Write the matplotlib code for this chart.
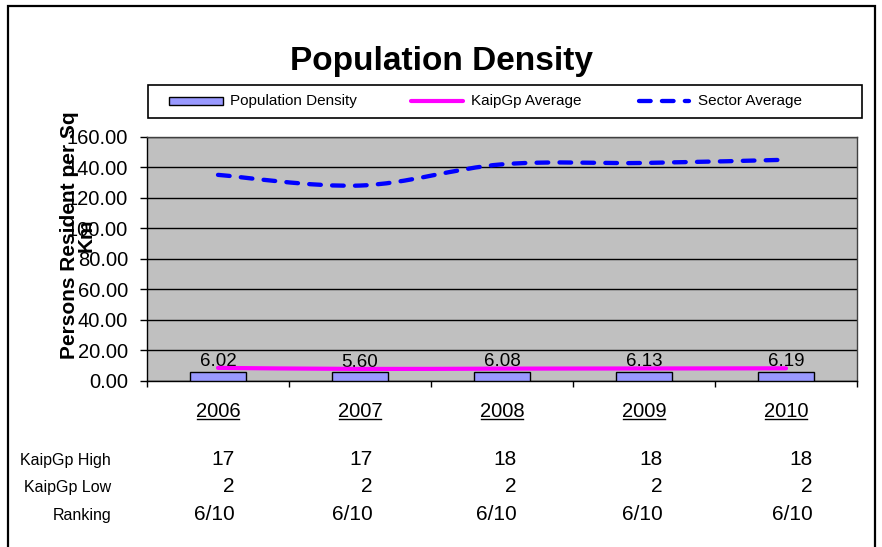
import numpy as np
import matplotlib
matplotlib.use("Agg")
import matplotlib.pyplot as plt
from matplotlib.path import Path
from matplotlib.patches import PathPatch, Rectangle
from matplotlib.lines import Line2D

plt.rcParams['font.family'] = ['Liberation Sans', 'DejaVu Sans']
plt.rcParams['lines.scale_dashes'] = False

# ---- data ----
years = ['2006', '2007', '2008', '2009', '2010']
population_density = [6.02, 5.60, 6.08, 6.13, 6.19]
kaipgp_average = [8.6, 7.9, 8.1, 8.2, 8.3]
sector_average = [135.0, 128.0, 141.9, 142.8, 144.9]
kaipgp_high = ['17', '17', '18', '18', '18']
kaipgp_low = ['2', '2', '2', '2', '2']
ranking = ['6/10', '6/10', '6/10', '6/10', '6/10']
y_ticks = [0, 20, 40, 60, 80, 100, 120, 140, 160]

W, H = 882, 547
fig = plt.figure(figsize=(W / 100, H / 100), dpi=100)


def fx(x):
    return x / W


def fy(y):
    return 1 - y / H


# outer frame of the chart object (bottom edge runs off the page)
fig.add_artist(Rectangle((fx(8), fy(560)), fx(875) - fx(8), fy(6) - fy(560),
                         transform=fig.transFigure, fill=False,
                         edgecolor='black', lw=1.6))

# plot area
left, right, top, bottom = 147, 857, 136.7, 381
ax = fig.add_axes([fx(left), fy(bottom), fx(right) - fx(left), fy(top) - fy(bottom)])
ax.set_facecolor('#C0C0C0')
x = np.arange(len(years))
ax.set_xlim(-0.5, len(years) - 0.5)
ax.set_ylim(0, 160)
ax.set_yticks(y_ticks)
ax.set_yticklabels([f'{v:.2f}' for v in y_ticks], fontsize=14.5)
ax.yaxis.grid(True, color='black', lw=1)
ax.set_axisbelow(True)
ax.tick_params(axis='y', direction='out', length=5, width=1, pad=8.6, colors='black')

ax.set_xticks(np.arange(-0.5, len(years), 1.0))
ax.set_xticklabels([])
ax.tick_params(axis='x', which='major', direction='out', length=4.5, width=1)
ax.set_xticks(x, minor=True)
ax.set_xticklabels(years, minor=True, fontsize=14.5)
ax.tick_params(axis='x', which='minor', length=0, pad=15)

for side in ['left', 'bottom']:
    ax.spines[side].set_color('black')
    ax.spines[side].set_linewidth(1)
for side in ['top', 'right']:
    ax.spines[side].set_color('#404040')
    ax.spines[side].set_linewidth(1)

# bars
bars = ax.bar(x, population_density, width=0.4, color='#9999FF',
              edgecolor='black', lw=1, zorder=3)
ax.bar_label(bars, labels=[f'{v:.2f}' for v in population_density],
             padding=1, fontsize=13.5, zorder=4)


def smooth_path(xs, ys):
    pts = np.column_stack([xs, ys]).astype(float)
    n = len(pts)
    verts = [pts[0]]
    codes = [Path.MOVETO]
    for i in range(n - 1):
        p_prev = pts[max(i - 1, 0)]
        p0, p1 = pts[i], pts[i + 1]
        p_next = pts[min(i + 2, n - 1)]
        c1 = p0 + (p1 - p_prev) / 6.0
        c2 = p1 - (p_next - p0) / 6.0
        verts += [c1, c2, p1]
        codes += [Path.CURVE4] * 3
    return Path(verts, codes)


kaip = PathPatch(smooth_path(x, kaipgp_average), fill=False,
                 edgecolor='#FF00FF', lw=3, zorder=5, capstyle='round',
                 joinstyle='round')
ax.add_patch(kaip)
sector = PathPatch(smooth_path(x, sector_average), fill=False,
                   edgecolor='#0000FF', lw=3.1, zorder=5, capstyle='round',
                   linestyle=(0, (8.4, 8.1)))
ax.add_patch(sector)

# title
fig.text(fx(442), fy(70), 'Population Density', fontsize=24, fontweight='bold',
         ha='center', va='baseline')

# y-axis title
fig.text(fx(77.5), fy(235), 'Persons Resident per Sq\nKm', fontsize=15,
         fontweight='bold', rotation=90, ha='center', va='center',
         multialignment='center', linespacing=0.85)

# legend
fig.add_artist(Rectangle((fx(148), fy(118)), fx(862) - fx(148), fy(85) - fy(118),
                         transform=fig.transFigure, facecolor='white',
                         edgecolor='black', lw=1.2))
ly = 101
fig.add_artist(Rectangle((fx(169), fy(ly + 4)), fx(223) - fx(169), fy(ly - 4) - fy(ly + 4),
                         transform=fig.transFigure, facecolor='#9999FF',
                         edgecolor='black', lw=1))
fig.text(fx(230), fy(ly), 'Population Density', fontsize=11, ha='left', va='center')
fig.add_artist(Line2D([fx(411), fx(463)], [fy(ly), fy(ly)], transform=fig.transFigure,
                      color='#FF00FF', lw=3, solid_capstyle='round'))
fig.text(fx(471), fy(ly), 'KaipGp Average', fontsize=11, ha='left', va='center')
fig.add_artist(Line2D([fx(639), fx(689)], [fy(ly), fy(ly)], transform=fig.transFigure,
                      color='#0000FF', lw=3.1, dash_capstyle='round',
                      linestyle=(0, (8.4, 8.1))))
fig.text(fx(698), fy(ly), 'Sector Average', fontsize=11, ha='left', va='center')

# table under the chart
col_right = [235, 373, 517, 663, 813]
rows = [('KaipGp High', kaipgp_high, 465),
        ('KaipGp Low', kaipgp_low, 492),
        ('Ranking', ranking, 520)]
for label, vals, base in rows:
    fig.text(fx(111), fy(base), label, fontsize=11.5, ha='right', va='baseline')
    for cx, v in zip(col_right, vals):
        fig.text(fx(cx), fy(base), v, fontsize=15, ha='right', va='baseline')

# underline the category labels
fig.canvas.draw()
renderer = fig.canvas.get_renderer()
inv = fig.transFigure.inverted()
for lbl in ax.get_xticklabels(minor=True):
    bb = lbl.get_window_extent(renderer)
    (x0, y0), (x1, _) = inv.transform([[bb.x0, bb.y0], [bb.x1, bb.y1]])
    yline = y0 + 1.5 / H
    fig.add_artist(Line2D([x0 + 1 / W, x1 - 1 / W], [yline, yline],
                          transform=fig.transFigure, color='black', lw=1))

fig.savefig('out.png', dpi=100)
